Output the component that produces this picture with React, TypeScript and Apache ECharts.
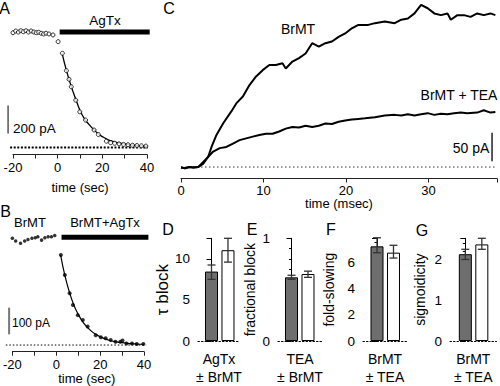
import React, { useEffect, useRef } from "react";
import * as echarts from "echarts";

const FONT = '"Liberation Sans", Arial, Helvetica, sans-serif';

// ---------- Panel A (AgTx) ----------
const aPreTime = [-20, -18.8, -17.6, -16.5, -15.4, -14.2, -13.1, -11.9, -10.7, -9.6, -8.5, -7.4, -6.3, -5.2, -3.9, -2.1, 0.2];
const aPreVal = [820, 832, 825, 834, 827, 834, 825, 832, 825, 820, 823, 816, 811, 816, 811, 804, 756];
const aPostTime = [2.1, 3.9, 5.1, 6.1, 8.1, 9.9, 12.5, 16.3, 18.2, 21.8, 23.7, 25.5, 27.5, 29.5, 31.5, 33.5, 35.5, 37.5, 39.5];
const aPostVal = [673, 549, 487, 434, 338, 255, 196, 125, 93, 45, 34, 30, 26, 22, 20, 16, 14, 12, 10];
const aFitTime = [2, 4, 6, 8, 10, 12, 14, 16, 18, 20, 22, 24, 26, 28, 30, 32, 34, 36, 38, 40];
const aFitVal = [673, 545, 440, 350, 265, 205, 165, 130, 100, 78, 60, 47, 38, 31, 25, 20, 16, 13, 11, 9];
// segments: [x1, y1, x2, y2]
const aDrugBar = [0.9, 825, 41.2, 825];
const aScaleBar = [-22.2, 100, -22.2, 300];
const aBaseline = [-21.3, 0, 40.3, 0];

// ---------- Panel B (BrMT + AgTx) ----------
const bPreTime = [-20, -18.5, -16.3, -14.4, -12.9, -11.1, -9.6, -8.4, -6.7, -5.2, -3.7, -2.2, -0.7];
const bPreVal = [400, 390, 381, 390, 395, 400, 402, 406, 393, 402, 406, 406, 410];
const bPostTime = [2.1, 3.9, 6.1, 7.6, 9.8, 12.1, 14.3, 18, 20.3, 22.5, 24.8, 27, 29.2, 30.2, 32, 34.5, 36.7, 39.7];
const bPostVal = [337, 262, 194, 150, 112, 94, 69, 37, 29, 25, 19, 12, 12, 17, 6, 6, 4, 4];
const bFitTime = [2, 4, 6, 8, 10, 12, 14, 16, 18, 20, 22, 24, 26, 28, 30, 32, 34, 36, 38, 40];
const bFitVal = [337, 258, 198, 150, 115, 88, 68, 52, 40, 31, 24, 18, 14, 11, 9, 7, 5, 4, 3, 3];
const bDrugBar = [2.4, 404, 42, 404];
const bScaleBar = [-21.5, 40, -21.5, 140];
const bBaseline = [-23, 0, 41, 0];

// ---------- Panel C (time course, msec / pA) ----------
const cBrMT = [
  [0, -1], [0.5, -2], [1, 0], [1.5, -1], [2.1, 0], [2.7, 6], [3.3, 18], [3.7, 35], [4.3, 56], [5.1, 76],
  [6.1, 97], [6.7, 111], [7.5, 123], [8.3, 143], [9.1, 158], [9.9, 169], [10.7, 178], [11.5, 178], [12.3, 181],
  [12.7, 172], [13.5, 184], [14.3, 190], [15.1, 198], [15.9, 216], [16.7, 210], [17.5, 216], [18.3, 219],
  [19.1, 227], [19.9, 233], [20.7, 242], [21.5, 248], [22.7, 248], [23.5, 251], [24.7, 254], [25.9, 251],
  [26.7, 257], [27.5, 259], [28.3, 268], [29.1, 283], [29.9, 277], [30.7, 268], [31.5, 265], [32.3, 268],
  [32.7, 257], [33.5, 265], [34.3, 265], [35.1, 262], [35.9, 268], [36.7, 265], [37.5, 268], [38.1, 265],
];
const cTEA = [
  [0, -1], [0.5, -2], [1, 0], [1.5, -1], [2.1, 0], [2.7, 9], [3.3, 18], [3.9, 27], [4.7, 33], [5.5, 35],
  [6.3, 41], [7.1, 47], [7.9, 50], [8.7, 53], [9.5, 56], [10.3, 58], [11.1, 58], [11.9, 62], [12.7, 67],
  [13.5, 70], [14.3, 69], [15.1, 72], [15.9, 70], [16.7, 72], [17.5, 76], [18.3, 75], [19.1, 79], [19.9, 81],
  [20.7, 83], [21.5, 84], [22.3, 85], [23.5, 87], [24.7, 90], [25.9, 91], [26.7, 90], [27.5, 92], [28.3, 90],
  [29.1, 92], [29.9, 94], [30.7, 91], [31.5, 93], [32.3, 92], [33.1, 94], [33.9, 95], [34.7, 94], [35.9, 95],
  [36.7, 99], [37.5, 95], [38.1, 96],
];
const cScaleBar = [37.7, 10, 37.7, 60];
const cBaseline = [0, 0, 38.3, 0];

// ---------- Panels D-G (bar summaries) ----------
const dVals = [8.45, 11.05];
const dLo = [7.5, 9.6];
const dHi = [9.25, 12.5];
const eVals = [0.62, 0.652];
const eLo = [0.6, 0.62];
const eHi = [0.64, 0.68];
const fVals = [7.19, 6.71];
const fLo = [6.7, 6.3];
const fHi = [7.84, 7.27];
const gVals = [2.13, 2.37];
const gLo = [2.0, 2.25];
const gHi = [2.25, 2.52];

const barPanels = [
  { vals: dVals, lo: dLo, hi: dHi, cat: "AgTx\n± BrMT", name: "τ block", nameSize: 17, max: 12.5, interval: 5, minor: 2, showMax: false, left: 198, width: 42, xmin: -0.82, xmax: 1.73, gap: 17 },
  { vals: eVals, lo: eLo, hi: eHi, cat: "TEA\n± BrMT", name: "fractional block", nameSize: 14, max: 1, interval: 1, minor: 10, showMax: true, left: 278, width: 44, xmin: -0.82, xmax: 1.85, gap: 21 },
  { vals: fVals, lo: fLo, hi: fHi, cat: "BrMT\n± TEA", name: "fold-slowing", nameSize: 14, max: 7.8, interval: 2, minor: 4, showMax: false, left: 363, width: 44, xmin: -0.85, xmax: 1.82, gap: 27 },
  { vals: gVals, lo: gLo, hi: gHi, cat: "BrMT\n± TEA", name: "sigmoidicity", nameSize: 14, max: 2.52, interval: 1, minor: 5, showMax: false, left: 450, width: 46.5, xmin: -0.93, xmax: 1.89, gap: 23 },
];
const barColors = ["#6e6e6e", "#ffffff"];

const pairs = (t: number[], v: number[]) => t.map((x, i) => [x, v[i]]);

const lineS = (data: number[][], xi: number, style: any, extra: any = {}) => ({
  type: "line",
  xAxisIndex: xi,
  yAxisIndex: xi,
  data,
  symbol: "none",
  clip: false,
  silent: true,
  lineStyle: style,
  ...extra,
});

// straight segment drawn through the axes' scales (custom series, never clipped)
const segS = (seg: number[], xi: number, style: any) => ({
  type: "custom",
  xAxisIndex: xi,
  yAxisIndex: xi,
  clip: false,
  silent: true,
  z: 3,
  data: [seg],
  encode: { x: [0, 2], y: [1, 3] },
  renderItem: (_p: any, api: any) => {
    const a = api.coord([api.value(0), api.value(1)]);
    const b = api.coord([api.value(2), api.value(3)]);
    return { type: "line", shape: { x1: a[0], y1: a[1], x2: b[0], y2: b[1] }, style: { fill: null, ...style } };
  },
});

const txt = (text: string, x: number, y: number, size: number, align = "center") => ({
  type: "text",
  x,
  y,
  style: { text, font: `${size}px ${FONT}`, fill: "#000", align, verticalAlign: "middle" },
});

function buildOption() {
  const grids: any[] = [
    { left: 13, top: 21.5, width: 134, height: 133 },
    { left: 10, top: 224.9, width: 134, height: 126.8 },
    { left: 181, top: 0.8, width: 319.2, height: 177.7 },
  ];
  const xAxes: any[] = [];
  const yAxes: any[] = [];
  const series: any[] = [];

  const timeAxis = (gi: number, min: number, max: number, name: string, gap: number, margin: number, fmt: (v: number) => string, pad: number[]) => ({
    gridIndex: gi,
    type: "value",
    position: "bottom",
    min,
    max,
    interval: 10,
    axisLine: { show: true, onZero: false, lineStyle: { color: "#222", width: 1 } },
    axisTick: { show: true, length: 4, lineStyle: { color: "#222" } },
    axisLabel: { color: "#000", fontSize: 13, fontFamily: FONT, margin, formatter: fmt, showMaxLabel: true },
    splitLine: { show: false },
    name,
    nameLocation: "middle",
    nameGap: gap,
    nameTextStyle: { color: "#000", fontSize: 13, fontFamily: FONT, padding: pad },
  });
  const every20 = (v: number) => (Math.round(v) % 20 === 0 ? String(v) : "");
  xAxes.push(timeAxis(0, -20, 40, "time (sec)", 26, 6, every20, [0, 0, 0, 0]));
  xAxes.push(timeAxis(1, -20, 40, "time (sec)", 18, 6, every20, [0, 0, 0, 17]));
  xAxes.push(timeAxis(2, 0, 38.3, "time (msec)", 18, 5, (v: number) => (Math.round(v) % 10 === 0 && v <= 30 ? String(v) : ""), [0, 0, 0, 0]));
  yAxes.push({ gridIndex: 0, type: "value", min: -50, max: 900, show: false });
  yAxes.push({ gridIndex: 1, type: "value", min: -25, max: 450, show: false });
  yAxes.push({ gridIndex: 2, type: "value", min: -20, max: 290, show: false });

  // Panel A series
  series.push(segS(aBaseline, 0, { stroke: "#000", lineWidth: 2, lineDash: [2, 1.6] }));
  series.push(segS(aScaleBar, 0, { stroke: "#555", lineWidth: 1.5 }));
  series.push(segS(aDrugBar, 0, { stroke: "#000", lineWidth: 5 }));
  series.push(lineS(pairs(aFitTime, aFitVal), 0, { color: "#000", width: 1.3 }, { smooth: true }));
  const openPt = { color: "#fff", borderColor: "#000", borderWidth: 1 };
  series.push({ type: "scatter", xAxisIndex: 0, yAxisIndex: 0, data: pairs(aPreTime, aPreVal), symbolSize: 4, itemStyle: openPt, clip: false, z: 4 });
  series.push({ type: "scatter", xAxisIndex: 0, yAxisIndex: 0, data: pairs(aPostTime, aPostVal), symbolSize: 4, itemStyle: openPt, clip: false, z: 4 });

  // Panel B series
  series.push(segS(bBaseline, 1, { stroke: "#000", lineWidth: 1, lineDash: [1.5, 2] }));
  series.push(segS(bScaleBar, 1, { stroke: "#777", lineWidth: 2 }));
  series.push(segS(bDrugBar, 1, { stroke: "#000", lineWidth: 5 }));
  series.push(lineS(pairs(bFitTime, bFitVal), 1, { color: "#000", width: 1.2 }, { smooth: true }));
  series.push({ type: "scatter", xAxisIndex: 1, yAxisIndex: 1, data: pairs(bPreTime, bPreVal), symbolSize: 3.5, itemStyle: { color: "#000" }, clip: false, z: 4 });
  series.push({ type: "scatter", xAxisIndex: 1, yAxisIndex: 1, data: pairs(bPostTime, bPostVal), symbolSize: 4, itemStyle: { color: "#000" }, clip: false, z: 4 });

  // Panel C series
  series.push(segS(cBaseline, 2, { stroke: "#333", lineWidth: 1, lineDash: [1.5, 2.5] }));
  series.push(lineS(cTEA, 2, { color: "#000", width: 2 }));
  series.push(lineS(cBrMT, 2, { color: "#000", width: 2 }));
  series.push(segS(cScaleBar, 2, { stroke: "#222", lineWidth: 1.5 }));

  // Panels D-G
  barPanels.forEach((p, k) => {
    const gi = 3 + k;
    grids.push({ left: p.left, top: 238.3, width: p.width, height: 108.4 });
    const xi = xAxes.length;
    xAxes.push({
      gridIndex: gi,
      type: "value",
      position: "bottom",
      min: p.xmin,
      max: p.xmax,
      axisLine: { show: true, onZero: false, lineStyle: { color: "#000", width: 1, type: [1.5, 2] } },
      axisTick: { show: false },
      axisLabel: { show: false },
      splitLine: { show: false },
    });
    xAxes.push({
      gridIndex: gi,
      type: "category",
      position: "bottom",
      data: [p.cat],
      axisLine: { show: false, onZero: false },
      axisTick: { show: false },
      axisLabel: { color: "#000", fontSize: 14, fontFamily: FONT, lineHeight: 18, margin: 9 },
    });
    const yi = yAxes.length;
    yAxes.push({
      gridIndex: gi,
      type: "value",
      min: 0,
      max: p.max,
      interval: p.interval,
      axisLine: { show: true, lineStyle: { color: "#000", width: 1 } },
      axisTick: { show: true, length: 5, lineStyle: { color: "#000" } },
      minorTick: { show: true, splitNumber: p.minor, length: 2.5, lineStyle: { color: "#000" } },
      axisLabel: { color: "#000", fontSize: 13.5, fontFamily: FONT, margin: 8, showMaxLabel: p.showMax },
      splitLine: { show: false },
      name: p.name,
      nameLocation: "middle",
      nameGap: p.gap,
      nameTextStyle: { color: "#000", fontSize: p.nameSize, fontFamily: FONT },
    });
    series.push({
      type: "bar",
      xAxisIndex: xi,
      yAxisIndex: yi,
      barWidth: 13,
      data: p.vals.map((v, i) => ({ value: [i, v], itemStyle: { color: barColors[i], borderColor: "#000", borderWidth: 1 } })),
    });
    series.push({
      type: "custom",
      xAxisIndex: xi,
      yAxisIndex: yi,
      z: 5,
      clip: false,
      data: p.vals.map((_, i) => [i, p.lo[i], p.hi[i]]),
      encode: { x: 0, y: [1, 2] },
      renderItem: (_params: any, api: any) => {
        const x = api.value(0);
        const lo = api.coord([x, api.value(1)]);
        const hi = api.coord([x, api.value(2)]);
        const w = 4;
        const style = { stroke: "#333", lineWidth: 1.3 };
        return {
          type: "group",
          children: [
            { type: "line", shape: { x1: lo[0], y1: lo[1], x2: hi[0], y2: hi[1] }, style },
            { type: "line", shape: { x1: lo[0] - w, y1: lo[1], x2: lo[0] + w, y2: lo[1] }, style },
            { type: "line", shape: { x1: hi[0] - w, y1: hi[1], x2: hi[0] + w, y2: hi[1] }, style },
          ],
        };
      },
    });
  });

  const graphic = [
    txt("A", 4.5, 8, 16),
    txt("B", 5.5, 211, 16),
    txt("C", 169, 8, 16),
    txt("D", 168, 229, 16),
    txt("E", 252, 229, 16),
    txt("F", 331, 229, 16),
    txt("G", 422, 230, 16),
    txt("AgTx", 105, 20, 13.5),
    txt("BrMT", 30, 222, 13),
    txt("BrMT+AgTx", 105, 222, 13),
    txt("200 pA", 13, 128, 13.5, "left"),
    txt("100 pA", 12, 323, 12, "left"),
    txt("BrMT", 298, 29, 14),
    txt("BrMT + TEA", 459, 95, 14),
    txt("50 pA", 471, 148, 14),
  ];

  return {
    animation: false,
    backgroundColor: "#fff",
    textStyle: { fontFamily: FONT },
    grid: grids,
    xAxis: xAxes,
    yAxis: yAxes,
    series,
    graphic,
  };
}

export default function App() {
  const ref = useRef<HTMLDivElement>(null);
  useEffect(() => {
    if (!ref.current) return;
    const chart = echarts.init(ref.current, null, { renderer: "svg" });
    chart.setOption(buildOption() as any);
    return () => chart.dispose();
  }, []);
  return (
    <div
      ref={ref}
      style={{ position: "fixed", left: 0, top: 0, width: 500, height: 386, background: "#fff" }}
    />
  );
}
